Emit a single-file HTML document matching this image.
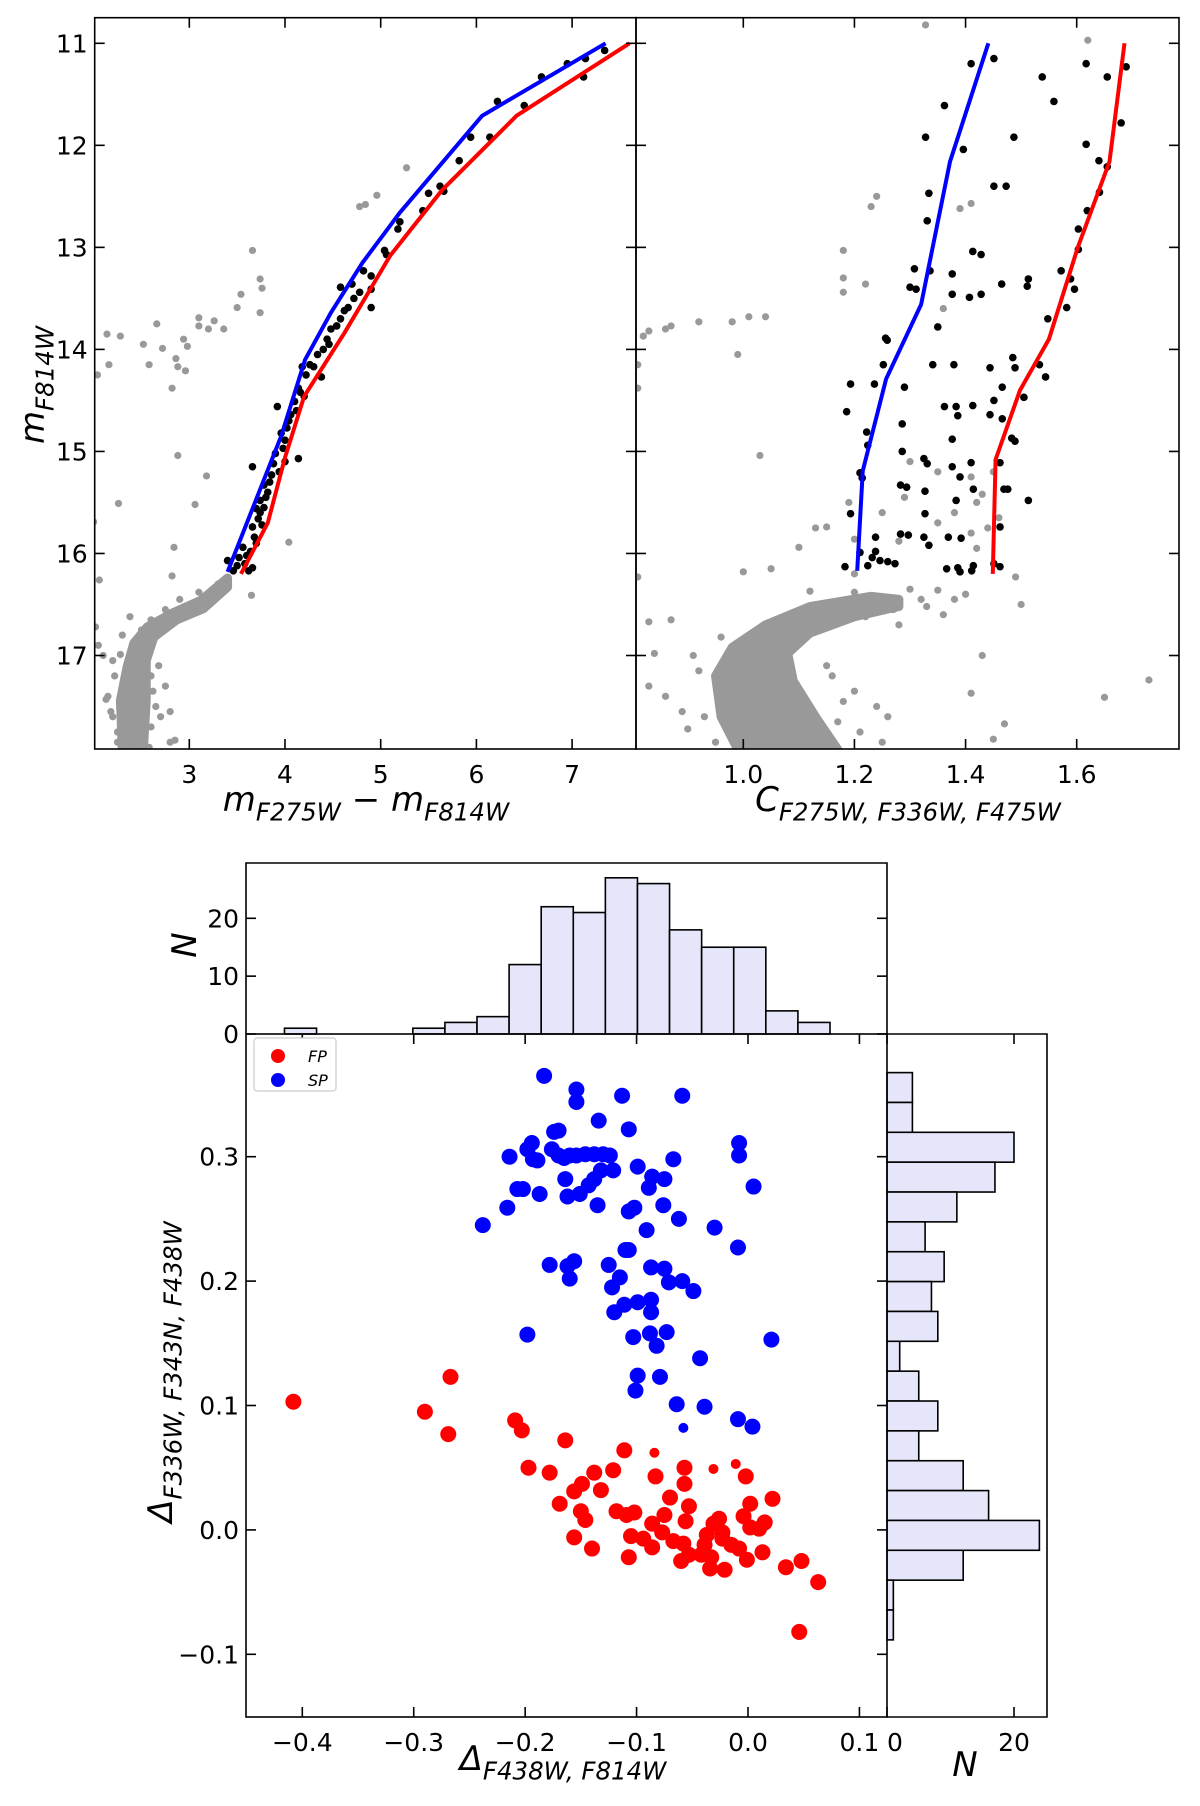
<!DOCTYPE html>
<html><head><meta charset="utf-8"><style>
html,body{margin:0;padding:0;background:#fff}
svg{display:block}
text{font-family:"DejaVu Sans","Liberation Sans",sans-serif;fill:#000}
</style></head><body>
<svg id="fig" xmlns="http://www.w3.org/2000/svg" width="1200" height="1806" viewBox="0 0 1200 1806"></svg>
<script>
// ---------- DATA ----------
const lcmdBlueLine = [[7.35,11.0],[6.06,11.71],[5.2,12.66],[4.81,13.15],[4.48,13.64],[4.21,14.1],[3.96,14.85],[3.4,16.18]];
const lcmdRedLine = [[7.6,11.0],[6.42,11.71],[5.64,12.44],[5.1,13.08],[4.62,13.84],[4.2,14.46],[4.0,15.06],[3.82,15.7],[3.54,16.2]];
const lcmdBlack = [[7.34,11.07],[7.14,11.15],[6.95,11.2],[7.12,11.33],[6.68,11.33],[6.5,11.61],[6.22,11.57],[5.94,11.92],[6.14,11.92],[5.82,12.15],[5.62,12.4],[5.66,12.45],[5.5,12.47],[5.44,12.64],[5.2,12.75],[5.18,12.82],[5.04,13.03],[5.06,13.07],[4.82,13.23],[4.9,13.28],[4.58,13.39],[4.7,13.36],[4.78,13.44],[4.9,13.41],[4.9,13.59],[4.66,13.59],[4.54,13.77],[4.48,13.8],[4.44,13.9],[4.34,14.05],[4.26,14.15],[4.18,14.17],[4.38,14.27],[4.14,14.38],[4.2,14.46],[4.1,14.51],[3.92,14.56],[4.06,14.64],[4.02,14.77],[3.96,14.82],[4.0,14.89],[4.14,15.07],[3.88,15.12],[3.66,15.15],[3.86,15.23],[3.78,15.33],[3.82,15.4],[3.74,15.48],[3.7,15.56],[3.72,15.66],[3.66,15.74],[3.68,15.84],[3.56,15.94],[3.6,16.02],[3.4,16.07],[3.5,16.12],[3.66,16.14],[3.46,16.17],[4.72,13.5],[4.62,13.62],[4.58,13.7],[4.3,14.17],[4.22,14.25],[4.16,14.42],[4.12,14.6],[4.04,14.7],[3.98,14.97],[3.9,15.02],[3.84,15.3],[3.8,15.45],[3.78,15.55],[3.74,15.6],[3.76,15.72],[3.7,15.9],[3.64,15.98],[3.58,16.1],[3.62,16.17],[3.52,16.04],[4.0,15.1],[3.94,15.2],[4.46,13.95],[4.4,14.0]];
const lcmdGray = [[7.78,10.97],[5.27,12.22],[4.96,12.49],[4.78,12.6],[4.84,12.58],[3.66,13.03],[3.74,13.31],[3.76,13.4],[3.54,13.46],[3.74,13.64],[3.5,13.59],[3.1,13.69],[3.1,13.77],[3.26,13.72],[3.36,13.8],[3.2,13.8],[2.94,13.9],[2.98,13.97],[2.66,13.75],[2.52,13.95],[2.72,13.99],[2.28,13.87],[2.14,13.85],[2.86,14.09],[2.58,14.15],[2.88,14.17],[2.96,14.21],[2.04,14.25],[2.16,14.15],[2.82,14.38],[2.88,15.04],[3.18,15.24],[3.06,15.52],[2.26,15.51],[2.84,15.94],[4.04,15.89],[2.0,15.69],[2.82,16.22],[2.06,16.26],[3.3,16.3],[3.1,16.38],[2.9,16.45],[2.75,16.55],[2.6,16.65],[2.5,16.75],[2.05,16.9],[2.1,17.0],[2.2,17.05],[2.75,17.3],[2.8,17.55],[2.7,17.6],[2.8,17.85],[2.85,17.83],[2.15,17.4],[2.2,17.6],[2.25,17.75],[2.02,16.72],[2.6,17.2],[2.65,17.5],[3.65,16.41],[2.38,16.62],[2.28,16.99],[2.13,17.43],[2.62,17.35],[2.22,17.2],[2.6,17.7],[2.68,17.1],[2.3,16.8],[2.95,16.52],[3.2,16.45],[2.7,16.68],[2.18,17.55],[2.25,17.85],[2.58,17.9]];
const lcmdDense = [[3.40,16.24],[3.12,16.46],[2.81,16.59],[2.56,16.72],[2.42,16.88],[2.35,17.11],[2.28,17.44],[2.30,17.92],[2.52,17.92],[2.55,17.44],[2.55,17.05],[2.63,16.82],[2.87,16.65],[3.15,16.54],[3.40,16.33]];
const rcmdBlueLine = [[1.441,11.0],[1.372,12.16],[1.32,13.56],[1.257,14.29],[1.215,15.19],[1.205,16.17]];
const rcmdRedLine = [[1.686,11.0],[1.659,12.16],[1.602,13.0],[1.55,13.9],[1.498,14.4],[1.454,15.08],[1.449,16.2]];
const rcmdBlack = [[1.41,11.2],[1.451,11.15],[1.538,11.33],[1.559,11.57],[1.617,11.2],[1.655,11.33],[1.689,11.23],[1.68,11.78],[1.362,11.61],[1.328,11.92],[1.396,12.04],[1.487,11.92],[1.617,11.99],[1.64,12.15],[1.655,12.21],[1.451,12.4],[1.473,12.4],[1.334,12.47],[1.641,12.46],[1.619,12.64],[1.331,12.74],[1.603,12.82],[1.603,13.02],[1.413,13.04],[1.428,13.07],[1.308,13.21],[1.336,13.23],[1.376,13.26],[1.3,13.39],[1.311,13.41],[1.376,13.46],[1.407,13.49],[1.428,13.46],[1.465,13.36],[1.513,13.31],[1.511,13.38],[1.572,13.23],[1.589,13.31],[1.596,13.41],[1.582,13.59],[1.548,13.7],[1.35,13.78],[1.256,13.89],[1.259,13.91],[1.341,14.15],[1.379,14.15],[1.444,14.18],[1.485,14.08],[1.489,14.18],[1.533,14.15],[1.544,14.27],[1.252,14.15],[1.193,14.34],[1.236,14.34],[1.29,14.37],[1.466,14.37],[1.505,14.47],[1.362,14.56],[1.383,14.56],[1.413,14.55],[1.451,14.5],[1.186,14.61],[1.386,14.65],[1.444,14.64],[1.466,14.68],[1.286,14.73],[1.222,14.81],[1.376,14.88],[1.483,14.87],[1.489,14.9],[1.224,14.94],[1.286,15.0],[1.325,15.07],[1.41,15.11],[1.376,15.15],[1.331,15.12],[1.21,15.21],[1.462,15.11],[1.214,15.26],[1.39,15.25],[1.283,15.33],[1.294,15.35],[1.327,15.39],[1.414,15.37],[1.469,15.37],[1.476,15.37],[1.513,15.48],[1.383,15.48],[1.193,15.61],[1.327,15.61],[1.462,15.74],[1.283,15.81],[1.297,15.82],[1.238,15.84],[1.325,15.84],[1.369,15.84],[1.392,15.85],[1.334,15.92],[1.238,15.98],[1.21,15.99],[1.232,16.04],[1.246,16.07],[1.26,16.08],[1.224,16.12],[1.183,16.13],[1.273,16.1],[1.366,16.15],[1.386,16.14],[1.39,16.18],[1.414,16.12],[1.451,16.1],[1.462,16.13],[1.411,16.17]];
const rcmdGray = [[1.328,10.82],[1.62,10.97],[1.41,12.57],[1.39,12.62],[1.24,12.5],[1.23,12.6],[1.18,13.03],[1.18,13.3],[1.22,13.36],[1.18,13.44],[1.36,13.6],[1.04,13.68],[1.01,13.68],[0.98,13.73],[0.92,13.73],[0.87,13.77],[0.86,13.8],[0.83,13.82],[0.82,13.87],[0.99,14.05],[0.81,14.15],[0.81,14.38],[1.03,15.04],[1.30,15.1],[1.35,15.2],[1.45,15.2],[1.41,15.25],[1.43,15.42],[1.29,15.45],[1.42,15.5],[1.19,15.5],[1.25,15.6],[1.38,15.6],[1.46,15.65],[1.35,15.7],[1.13,15.75],[1.15,15.74],[1.2,15.86],[1.28,15.88],[1.44,15.75],[1.41,15.8],[1.1,15.94],[1.42,15.95],[1.05,16.15],[1.0,16.18],[0.81,16.23],[1.49,16.23],[1.2,16.2],[1.12,16.37],[1.2,16.38],[1.3,16.35],[1.35,16.36],[1.38,16.45],[1.4,16.4],[1.33,16.52],[1.27,16.55],[1.5,16.5],[0.83,16.67],[0.87,16.65],[0.84,16.98],[0.83,17.3],[0.86,17.4],[0.89,17.55],[0.9,17.72],[1.41,17.37],[1.65,17.41],[1.73,17.24],[1.47,17.67],[1.24,17.5],[1.26,17.6],[1.45,17.82],[0.96,16.82],[0.91,17.0],[0.92,17.15],[1.16,17.2],[1.2,17.35],[1.13,17.8],[1.25,17.85],[1.18,17.45],[1.43,17.0],[1.22,16.62],[1.15,16.68],[1.08,16.78],[1.02,16.95],[0.97,17.3],[0.96,17.5],[1.1,17.4],[1.15,17.1],[1.32,16.45],[1.26,16.48],[1.18,16.55],[1.1,16.62],[1.36,16.6],[1.28,16.7],[0.93,17.6],[0.95,17.85],[1.17,17.65],[1.21,17.75]];
const rcmdDense = [[1.23,16.42],[1.12,16.52],[1.04,16.70],[0.98,16.92],[0.95,17.2],[0.96,17.6],[0.99,17.92],[1.17,17.92],[1.13,17.6],[1.09,17.25],[1.08,16.98],[1.12,16.78],[1.2,16.62],[1.28,16.52],[1.28,16.45]];
const spX = [-0.183,-0.154,-0.154,-0.113,-0.059,-0.134,-0.107,-0.174,-0.170,-0.194,-0.214,-0.198,-0.193,-0.189,-0.176,-0.170,-0.165,-0.160,-0.154,-0.146,-0.138,-0.130,-0.124,-0.121,-0.132,-0.138,-0.143,-0.164,-0.099,-0.086,-0.075,-0.067,-0.008,-0.008,0.005,-0.207,-0.202,-0.187,-0.162,-0.151,-0.135,-0.107,-0.102,-0.089,-0.076,-0.062,-0.091,-0.030,-0.238,-0.216,-0.009,-0.178,-0.162,-0.156,-0.160,-0.125,-0.115,-0.122,-0.110,-0.107,-0.087,-0.075,-0.071,-0.059,-0.049,-0.120,-0.111,-0.099,-0.087,-0.087,-0.103,-0.088,-0.073,-0.082,-0.198,0.021,-0.043,-0.099,-0.101,-0.079,-0.064,-0.039,-0.009,0.004,-0.058];
const spY = [0.365,0.354,0.344,0.349,0.349,0.329,0.322,0.320,0.321,0.311,0.300,0.306,0.298,0.297,0.306,0.301,0.299,0.301,0.301,0.302,0.302,0.302,0.301,0.289,0.289,0.282,0.277,0.282,0.292,0.284,0.282,0.298,0.311,0.301,0.276,0.274,0.274,0.270,0.268,0.270,0.261,0.256,0.259,0.275,0.261,0.250,0.241,0.243,0.245,0.259,0.227,0.213,0.212,0.216,0.202,0.213,0.203,0.195,0.225,0.225,0.211,0.210,0.199,0.200,0.192,0.175,0.181,0.183,0.185,0.175,0.155,0.158,0.159,0.148,0.157,0.153,0.138,0.124,0.112,0.123,0.101,0.099,0.089,0.083,0.082];
const spSmall = [84];
const fpX = [-0.408,-0.267,-0.290,-0.269,-0.209,-0.203,-0.164,-0.111,-0.084,-0.197,-0.178,-0.138,-0.132,-0.121,-0.083,-0.057,-0.031,-0.011,-0.002,-0.149,-0.156,-0.169,-0.150,-0.146,-0.118,-0.102,-0.109,-0.086,-0.075,-0.070,-0.057,-0.053,-0.056,-0.026,-0.031,0.002,-0.004,0.002,0.015,0.022,-0.156,-0.140,-0.105,-0.094,-0.086,-0.077,-0.067,-0.058,-0.053,-0.060,-0.039,-0.042,-0.033,-0.023,-0.015,-0.008,-0.001,0.013,-0.107,-0.034,-0.021,0.034,0.048,0.063,0.046,-0.023,-0.037,0.010];
const fpY = [0.103,0.123,0.095,0.077,0.088,0.080,0.072,0.064,0.062,0.050,0.046,0.046,0.032,0.048,0.043,0.050,0.049,0.053,0.043,0.037,0.031,0.021,0.015,0.008,0.015,0.014,0.012,0.005,0.012,0.026,0.037,0.019,0.007,0.009,0.005,0.021,0.011,0.002,0.006,0.025,-0.006,-0.015,-0.005,-0.007,-0.014,-0.002,-0.009,-0.011,-0.020,-0.025,-0.012,-0.020,-0.022,-0.007,-0.012,-0.015,-0.024,-0.018,-0.022,-0.031,-0.032,-0.030,-0.025,-0.042,-0.082,-0.002,-0.004,0.001];
const fpSmall = [8,16,17];
const histXStart = -0.416, histXWidth = 0.0288;
const histXCounts = [1,0,0,0,1,2,3,12,22,21,27,26,18,15,15,4,2];
const histYTop = 0.3676, histYWidth = 0.024;
const histYCounts = [4,4,20,17,11,6,9,7,8,2,5,8,5,12,16,24,12,1,1];
const lcmdXTicks = [3,4,5,6,7];
const rcmdXTicks = [1.0,1.2,1.4,1.6];
const cmdYTicks = [11,12,13,14,15,16,17];
const mapXTicks = [-0.4,-0.3,-0.2,-0.1,0.0,0.1];
const mapXTickLabels = ['\u22120.4','\u22120.3','\u22120.2','\u22120.1','0.0','0.1'];
const mapYTicks = [-0.1,0.0,0.1,0.2,0.3];
const mapYTickLabels = ['\u22120.1','0.0','0.1','0.2','0.3'];
const histNTicks = [0,10,20];
const rhistNTicks = [0,20];

// ---------- HELPERS ----------
const NS='http://www.w3.org/2000/svg';
const svg=document.getElementById('fig');
function mk(tag,attrs,parent){const e=document.createElementNS(NS,tag);for(const k in attrs)e.setAttribute(k,attrs[k]);(parent||svg).appendChild(e);return e;}
function lin(d0,d1,r0,r1){return v=>r0+(v-d0)*(r1-r0)/(d1-d0);}

const P1={l:94.7,r:636,t:17.7,b:749};
const P2={l:636,r:1179,t:17.7,b:749};
const sxL=lin(3,7,189.3,572.1), sxR=lin(1.0,1.6,743.3,1076.7), syC=lin(11,17,43.3,655.5);
const M={l:246,r:887,t:1034,b:1717};
const HX={l:246,r:887,t:863,b:1034};
const HY={l:887,r:1047,t:1034,b:1717};
const mx=lin(-0.4,0.0,302.3,748), my=lin(0,0.3,1529.9,1156.7);
const hn=lin(0,20,1034,918.3), rn=lin(0,20,887,1014);

function clip(id,p){const c=mk('clipPath',{id:id});mk('rect',{x:p.l,y:p.t,width:p.r-p.l,height:p.b-p.t},c);return c;}
const defs=mk('defs',{});
const c1=clip('c1',P1); defs.appendChild(c1);
const c2=clip('c2',P2); defs.appendChild(c2);

function frame(p,name){const r=mk('rect',{x:p.l,y:p.t,width:p.r-p.l,height:p.b-p.t,fill:'none',stroke:'#000','stroke-width':1.6});

}
function tick(x1,y1,x2,y2,g){mk('line',{x1:x1,y1:y1,x2:x2,y2:y2,stroke:'#000','stroke-width':1.6},g);}
function label(x,y,txt,anchor,g,size){const t=mk('text',{x:x,y:y,'text-anchor':anchor,'font-size':size||25},g);t.textContent=txt;return t;}

function cmdPanel(p,sx,cid,dense,gray,black,blueL,redL,xt,xtl,pre,showY){
  const g=mk('g',{});
  
  
  const pg=mk('g',{'clip-path':'url(#'+cid+')'},g);
  const dpath=mk('polygon',{points:dense.map(d=>sx(d[0])+','+syC(d[1])).join(' '),fill:'#999',stroke:'#999','stroke-width':9,'stroke-linejoin':'round'},pg);
  
  
  gray.forEach(d=>{const c=mk('circle',{cx:sx(d[0]),cy:syC(d[1]),r:3.6,fill:'#999'},pg);
    
    });
  black.forEach(d=>{const c=mk('circle',{cx:sx(d[0]),cy:syC(d[1]),r:3.8,fill:'#000'},pg);
    
    });
  const bl=mk('polyline',{points:blueL.map(d=>sx(d[0])+','+syC(d[1])).join(' '),fill:'none',stroke:'#0000ff','stroke-width':4},pg);
  
  
  const rl=mk('polyline',{points:redL.map(d=>sx(d[0])+','+syC(d[1])).join(' '),fill:'none',stroke:'#ff0000','stroke-width':4},pg);
  
  
  xt.forEach((v,i)=>{const x=sx(v);tick(x,p.b,x,p.b-10,g);tick(x,p.t,x,p.t+10,g);
    const t=label(x,p.b+34,xtl[i],'middle',g);
    
    });
  cmdYTicks.forEach(v=>{const y=syC(v);tick(p.l,y,p.l+10,y,g);tick(p.r,y,p.r-10,y,g);
    if(showY){const t=label(p.l-7,y+9,String(v),'end',g);
      
      }});
  frame(p,pre+'-frame');
}
cmdPanel(P1,sxL,'c1',lcmdDense,lcmdGray,lcmdBlack,lcmdBlueLine,lcmdRedLine,lcmdXTicks,lcmdXTicks.map(String),'left-cmd',true);
cmdPanel(P2,sxR,'c2',rcmdDense,rcmdGray,rcmdBlack,rcmdBlueLine,rcmdRedLine,rcmdXTicks,rcmdXTicks.map(v=>v.toFixed(1)),'right-cmd',false);

function subLabel(x,y,main,sub,rot,name,size,after){
  const t=mk('text',{x:x,y:y,'text-anchor':'middle','font-size':size,'font-style':'italic'});
  if(rot)t.setAttribute('transform','rotate(-90 '+x+' '+y+')');
  
  
  let h='<tspan>'+main+'</tspan><tspan font-size="'+(size*0.72)+'" dy="'+(size*0.28)+'">'+sub+'</tspan>';
  if(after)h+=after;
  t.innerHTML=h;return t;
}
subLabel(44,385,'m','F814W',true,'left-y-axis-title',34);
subLabel(366,811,'m','F275W',false,'left-x-axis-title',34,'<tspan dy="-9.5" font-style="normal"> \u2212 </tspan><tspan>m</tspan><tspan font-size="24.5" dy="9.5">F814W</tspan>');
subLabel(908,811,'C','F275W, F336W, F475W',false,'right-x-axis-title',34);

const gh=mk('g',{});


histXCounts.forEach((n,i)=>{if(n<=0)return;const x0=mx(histXStart+i*histXWidth),x1=mx(histXStart+(i+1)*histXWidth);
  const b=mk('rect',{x:x0,y:hn(n),width:x1-x0,height:hn(0)-hn(n),fill:'#e6e6fa',stroke:'#000','stroke-width':1.6},gh);
  
  });
histNTicks.forEach(v=>{const y=hn(v);tick(HX.l,y,HX.l+10,y,gh);tick(HX.r,y,HX.r-10,y,gh);
  const t=label(HX.l-7,y+9,String(v),'end',gh);
  
  });
mk('polyline',{points:HX.l+','+HX.b+' '+HX.l+','+HX.t+' '+HX.r+','+HX.t+' '+HX.r+','+HX.b,fill:'none',stroke:'#000','stroke-width':1.6},gh);
const nl=mk('text',{x:196,y:945,'text-anchor':'middle','font-size':34,'font-style':'italic',transform:'rotate(-90 196 945)'});
nl.textContent='N';



const gr=mk('g',{});


histYCounts.forEach((n,i)=>{if(n<=0)return;const y0=my(histYTop-i*histYWidth),y1=my(histYTop-(i+1)*histYWidth);
  const b=mk('rect',{x:rn(0),y:y0,width:rn(n)-rn(0),height:y1-y0,fill:'#e6e6fa',stroke:'#000','stroke-width':1.6},gr);
  
  });
rhistNTicks.forEach(v=>{const x=rn(v);tick(x,HY.b,x,HY.b-10,gr);tick(x,HY.t,x,HY.t+10,gr);
  const t=label(v===0?x+8:x,HY.b+34,String(v),'middle',gr);
  
  });
mk('polyline',{points:HY.l+','+HY.t+' '+HY.r+','+HY.t+' '+HY.r+','+HY.b+' '+HY.l+','+HY.b,fill:'none',stroke:'#000','stroke-width':1.6},gr);
const nr=mk('text',{x:965,y:1776,'text-anchor':'middle','font-size':34,'font-style':'italic'});
nr.textContent='N';



const gm=mk('g',{});


fpX.forEach((v,i)=>{const c=mk('circle',{cx:mx(v),cy:my(fpY[i]),r:fpSmall.includes(i)?5:8,fill:'#ff0000'},gm);
  
  });
spX.forEach((v,i)=>{const c=mk('circle',{cx:mx(v),cy:my(spY[i]),r:spSmall.includes(i)?5:8,fill:'#0000ff'},gm);
  
  });
mapXTicks.forEach((v,i)=>{const x=mx(v);tick(x,M.b,x,M.b-10,gm);tick(x,M.t,x,M.t+10,gm);
  const t=label(x,M.b+34,mapXTickLabels[i],'middle',gm);
  
  });
mapYTicks.forEach((v,i)=>{const y=my(v);tick(M.l,y,M.l+10,y,gm);tick(M.r,y,M.r-10,y,gm);
  const t=label(M.l-7,y+9,mapYTickLabels[i],'end',gm);
  
  });
frame(M,'chromosome-map-frame');
subLabel(563,1770,'\u0394','F438W, F814W',false,'map-x-axis-title',34);
subLabel(172,1372,'\u0394','F336W, F343N, F438W',true,'map-y-axis-title',34);

const lg=mk('g',{});


mk('rect',{x:254,y:1038,width:82,height:53,rx:3,fill:'#fff',stroke:'#ccc','stroke-width':1.2},lg);
const l1=mk('circle',{cx:278,cy:1056,r:7,fill:'#ff0000'},lg);


const l2=mk('circle',{cx:278,cy:1080,r:7,fill:'#0000ff'},lg);


const t1=mk('text',{x:308,y:1062,'font-size':16,'font-style':'italic'},lg);t1.textContent='FP';


const t2=mk('text',{x:308,y:1086,'font-size':16,'font-style':'italic'},lg);t2.textContent='SP';


</script>
</body></html>
